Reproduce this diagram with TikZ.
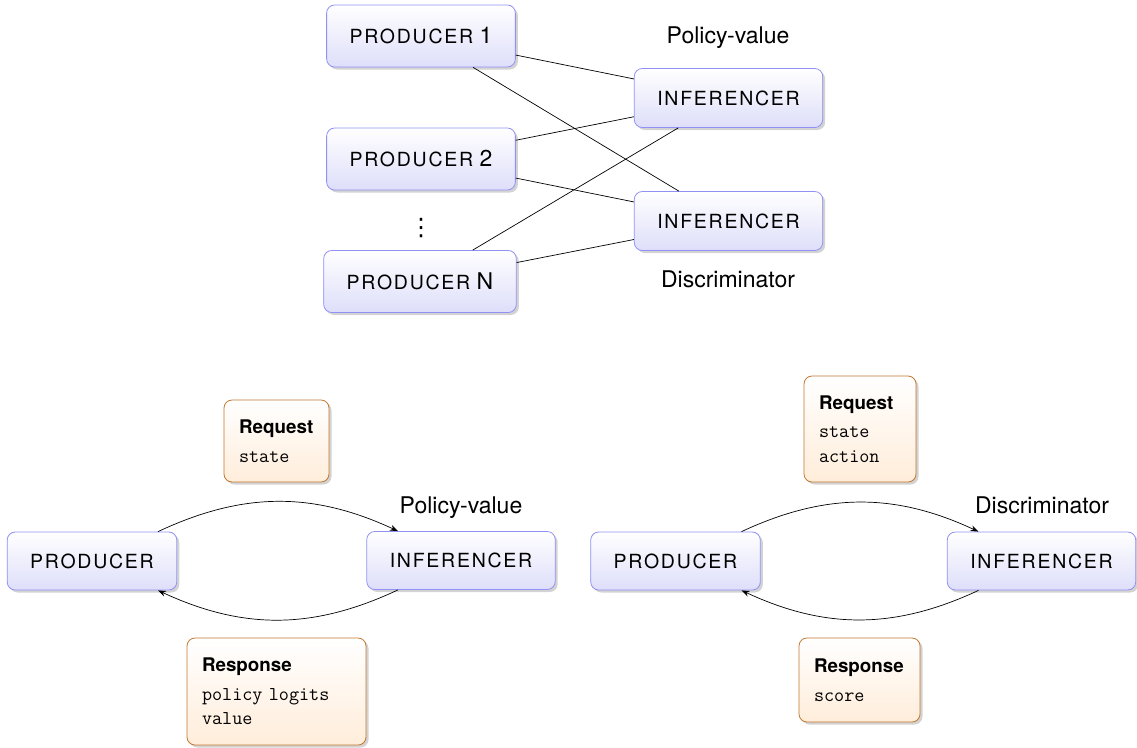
\documentclass[tikz,border=0pt]{standalone}
\usepackage{fontspec}
\setmainfont{TeX Gyre Heros}
\newfontfamily\capsfont[LetterSpace=9]{TeX Gyre Heros}
\newfontfamily\dejavu{DejaVu Sans}
\usetikzlibrary{shadows,arrows.meta}
\definecolor{nodeborder}{RGB}{145,145,245}
\definecolor{nodebottom}{RGB}{222,222,250}
\definecolor{boxborder}{RGB}{195,120,50}
\definecolor{boxbottom}{RGB}{255,237,218}
\newcommand{\capsword}[1]{{\capsfont\fontsize{19.5}{24}\selectfont #1}}
\newcommand{\bignum}[1]{{\fontsize{23}{28}\selectfont #1}}
\newcommand{\mono}[1]{{\fontsize{19.6}{24.5}\selectfont\ttfamily #1}}
\begin{document}
\begin{tikzpicture}[x=1pt,y=-1pt,
  agent/.style={draw=nodeborder, line width=0.8pt, rounded corners=8pt,
    top color=white, bottom color=nodebottom,
    drop shadow={opacity=0.35, shadow xshift=2.5pt, shadow yshift=-2.5pt},
    inner xsep=23pt, inner ysep=0pt, minimum height=58pt,
    font=\fontsize{23}{28}\selectfont},
  msgbox/.style={draw=boxborder, line width=0.8pt, rounded corners=8pt,
    top color=white, bottom color=boxbottom,
    drop shadow={opacity=0.35, shadow xshift=2.5pt, shadow yshift=-2.5pt},
    inner xsep=15pt, inner ysep=0pt, align=left,
    font=\fontsize{18.8}{24.5}\selectfont},
  lbl/.style={font=\fontsize{23}{28}\selectfont, inner sep=0pt, anchor=base},
  link/.style={line width=0.7pt},
  flow/.style={line width=0.7pt, -{Stealth[length=8pt,width=6pt]}},
]
\useasboundingbox (0,0) rectangle (1137,747);

% ---------- top diagram ----------
\node[agent, minimum height=62pt] (p1) at (421,36) {\capsword{PRODUCER} \bignum{1}};
\node[agent, minimum height=62pt] (p2) at (421,159) {\capsword{PRODUCER} \bignum{2}};
\node[inner sep=0pt, font=\dejavu\fontsize{24}{28}\selectfont] (dots) at (421,228) {⋮};
\node[agent, minimum height=62pt] (pn) at (420,281.5) {\capsword{PRODUCER} \bignum{N}};
\node[agent, minimum height=59pt] (i1) at (728.5,98) {\capsword{INFERENCER}};
\node[agent, minimum height=59pt] (i2) at (728.5,221) {\capsword{INFERENCER}};
\node[lbl] (t1) at (728,43) {Policy-value};
\node[lbl] (t2) at (728,287) {Discriminator};

\draw[link] (p1) -- (i1);
\draw[link] (p1) -- (i2);
\draw[link] (p2) -- (i1);
\draw[link] (p2) -- (i2);
\draw[link] (pn) -- (i1);
\draw[link] (pn) -- (i2);

% ---------- bottom left ----------
\node[agent] (lp) at (92,561) {\capsword{PRODUCER}};
\node[agent] (li) at (461,560.5) {\capsword{INFERENCER}};
\node[lbl] (b1) at (461,513) {Policy-value};
\node[msgbox, text width=75pt, minimum height=82pt] (lreq) at (276.5,441)
  {\textbf{Request}\\[4pt]\mono{state}};
\node[msgbox, text width=149pt, minimum height=107pt] (lres) at (276.5,691.5)
  {\textbf{Response}\\[4pt]\mono{policy logits}\\\mono{value}};
\draw[flow] (lp.24) to[bend left=25] (li.155);
\draw[flow] (li.205) to[bend left=25] (lp.-24);

% ---------- bottom right ----------
\node[agent] (rp) at (675.5,561) {\capsword{PRODUCER}};
\node[agent] (ri) at (1041.5,561) {\capsword{INFERENCER}};
\node[lbl] (b2) at (1042,513) {Discriminator};
\node[msgbox, text width=82pt, minimum height=106pt] (rreq) at (860,429)
  {\textbf{Request}\\[4pt]\mono{state}\\\mono{action}};
\node[msgbox, text width=91pt, minimum height=84pt] (rres) at (859.5,680)
  {\textbf{Response}\\[4pt]\mono{score}};
\draw[flow] (rp.24) to[bend left=25] (ri.155);
\draw[flow] (ri.205) to[bend left=25] (rp.-24);
\end{tikzpicture}
\end{document}
